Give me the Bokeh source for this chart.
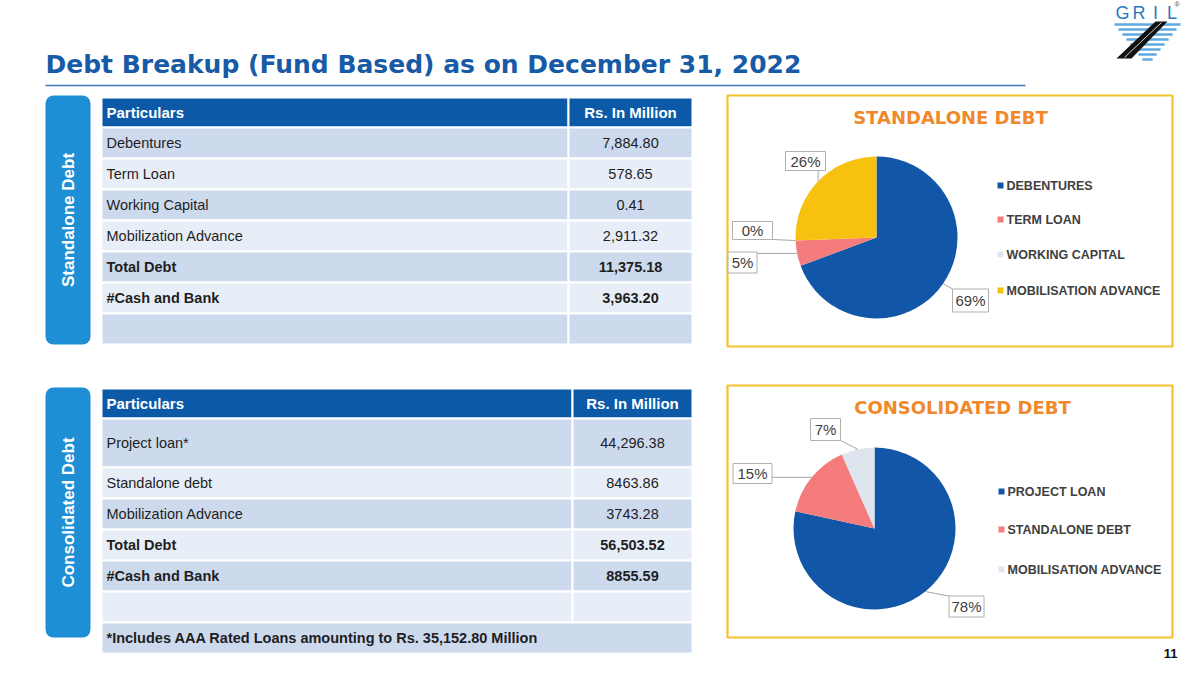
import math
from bokeh.plotting import figure
from bokeh.models import Range1d
from bokeh.embed import file_html
from bokeh.resources import INLINE
from bokeh.core.properties import value

# ---------------- data ----------------
title_text = "Debt Breakup (Fund Based) as on December 31, 2022"
col_headers = ["Particulars", "Rs. In Million"]

sa_items = ["Debentures", "Term Loan", "Working Capital", "Mobilization Advance"]
sa_values = [7884.80, 578.65, 0.41, 2911.32]
sa_total_label = "Total Debt"
sa_total = 11375.18
sa_cash_label = "#Cash and Bank"
sa_cash = 3963.20

cons_items = ["Project loan*", "Standalone debt", "Mobilization Advance"]
cons_values = [44296.38, 8463.86, 3743.28]
cons_value_text = ["44,296.38", "8463.86", "3743.28"]
cons_total_label = "Total Debt"
cons_total = 56503.52
cons_cash_label = "#Cash and Bank"
cons_cash = 8855.59
cons_cash_text = "8855.59"
footnote = "*Includes AAA Rated Loans amounting to Rs. 35,152.80 Million"

sa_side = "Standalone Debt"
cons_side = "Consolidated Debt"
sa_pie_title = "STANDALONE DEBT"
cons_pie_title = "CONSOLIDATED DEBT"
sa_pie_labels = ["DEBENTURES", "TERM LOAN", "WORKING CAPITAL", "MOBILISATION ADVANCE"]
cons_pie_labels = ["PROJECT LOAN", "STANDALONE DEBT", "MOBILISATION ADVANCE"]
logo_letters = ["G", "R", "I", "L"]
page_number = "11"

# ---------------- styles ----------------
FONT = value("Liberation Sans")
WIDE = value("DejaVu Sans")
TITLE_BLUE = "#175aa6"
HEAD_BLUE = "#0c5aa7"
SIDE_BLUE = "#1f8fd5"
BAND_DARK = "#cddaee"
BAND_LIGHT = "#e8eef7"
TXT = "#1e1e1e"
ORANGE = "#f0892b"
GOLD = "#f6c12c"
LEG_TXT = "#404040"
sa_colors = ["#1256a8", "#f47c7c", "#dfe5ef", "#f7c20f"]
cons_colors = ["#1256a8", "#f47c7c", "#dfe5ef"]

p = figure(width=1184, height=663, x_range=Range1d(0, 1184), y_range=Range1d(-663, 0),
           output_backend="svg", toolbar_location=None, min_border=0,
           x_axis_type=None, y_axis_type=None)
p.grid.visible = False
p.outline_line_color = None
p.background_fill_color = "white"
p.border_fill_color = "white"


def Y(v):
    return -v


# ---------------- title ----------------
p.text(x=[45], y=[Y(64)], text=[title_text], text_font=WIDE, text_font_style="bold",
       text_font_size="25px", text_color=TITLE_BLUE, text_baseline="alphabetic")
p.segment(x0=[45], y0=[Y(85)], x1=[1025], y1=[Y(85)], line_color="#3a74b8", line_width=1.5)

# ---------------- logo ----------------
for i, ch in enumerate(logo_letters):
    p.text(x=[1122 + i * 16.5], y=[Y(12)], text=[ch], text_font=FONT, text_font_size="18px",
           text_color="#2a78bd", text_align="center", text_baseline="middle")
p.text(x=[1174], y=[Y(4)], text=["®"], text_font=FONT, text_font_size="7px",
       text_color="#555555", text_align="left", text_baseline="middle")
for k in range(8):
    yy = 24 + k * 5.0
    half = 33 * (1 - k / 8.3)
    p.segment(x0=[1147 - half], y0=[Y(yy)], x1=[1147 + half], y1=[Y(yy)],
              line_color="#5ea9df", line_width=2.4)
p.patch(x=[1155, 1167, 1131, 1116], y=[Y(21), Y(21), Y(58), Y(58)], fill_color="#111111",
        line_color=None)
p.segment(x0=[1161], y0=[Y(22)], x1=[1124], y1=[Y(57)], line_color="white", line_width=0.8)


# ---------------- tables ----------------
def draw_table(left, split, right, header, rows, labels, vals, bolds, side_box, side_text,
               foot=None):
    p.quad(left=[side_box[0]], right=[side_box[1]], top=[Y(side_box[2])], bottom=[Y(side_box[3])],
           fill_color=SIDE_BLUE, line_color=None, border_radius=8)
    p.text(x=[(side_box[0] + side_box[1]) / 2], y=[Y((side_box[2] + side_box[3]) / 2)],
           text=[side_text], angle=math.pi / 2, text_font=FONT, text_font_style="bold",
           text_font_size="17px", text_color="white", text_align="center",
           text_baseline="middle")
    p.quad(left=[left, split], right=[split, right], top=[Y(header[0])] * 2,
           bottom=[Y(header[1])] * 2, fill_color=HEAD_BLUE, line_color="white", line_width=2)
    hy = Y((header[0] + header[1]) / 2)
    p.text(x=[left + 5], y=[hy], text=[col_headers[0]], text_font=FONT, text_font_style="bold",
           text_font_size="15px", text_color="white", text_baseline="middle")
    p.text(x=[(split + right) / 2], y=[hy], text=[col_headers[1]], text_font=FONT,
           text_font_style="bold", text_font_size="15px", text_color="white",
           text_align="center", text_baseline="middle")
    for i, (t, b) in enumerate(rows):
        col = BAND_DARK if i % 2 == 0 else BAND_LIGHT
        p.quad(left=[left, split], right=[split, right], top=[Y(t)] * 2, bottom=[Y(b)] * 2,
               fill_color=col, line_color="white", line_width=2)
        ym = Y((t + b) / 2)
        if i < len(labels):
            style = "bold" if bolds[i] else "normal"
            p.text(x=[left + 5], y=[ym], text=[labels[i]], text_font=FONT, text_font_style=style,
                   text_font_size="14.5px", text_color=TXT, text_baseline="middle")
            p.text(x=[(split + right) / 2], y=[ym], text=[vals[i]], text_font=FONT,
                   text_font_style=style, text_font_size="14.5px", text_color=TXT,
                   text_align="center", text_baseline="middle")
    if foot is not None:
        t, b = foot
        col = BAND_DARK if len(rows) % 2 == 0 else BAND_LIGHT
        p.quad(left=[left], right=[right], top=[Y(t)], bottom=[Y(b)], fill_color=col,
               line_color="white", line_width=2)
        p.text(x=[left + 5], y=[Y((t + b) / 2)], text=[footnote], text_font=FONT,
               text_font_style="bold", text_font_size="14.5px", text_color=TXT,
               text_baseline="middle")


sa_labels = sa_items + [sa_total_label, sa_cash_label]
sa_vals = [f"{v:,.2f}" for v in sa_values + [sa_total, sa_cash]]
sa_bolds = [False] * len(sa_items) + [True, True]
draw_table(101, 568, 692, (97, 127),
           [(127, 158), (158, 189), (189, 220), (220, 251), (251, 282), (282, 313), (313, 344)],
           sa_labels, sa_vals, sa_bolds, (45, 90, 95, 344), sa_side)

cons_labels = cons_items + [cons_total_label, cons_cash_label]
cons_vals = cons_value_text + [f"{cons_total:,.2f}", cons_cash_text]
cons_bolds = [False] * len(cons_items) + [True, True]
draw_table(101, 572, 692, (388, 418),
           [(418, 467), (467, 498), (498, 529), (529, 560), (560, 591), (591, 622)],
           cons_labels, cons_vals, cons_bolds, (45, 90, 387, 637), cons_side, foot=(622, 653))


# ---------------- pies ----------------
def draw_pie(frame, title, title_xy, cx, cy, r, vals, colors, names, leg_x, leg_y, boxes):
    fl, fr, ft, fb = frame
    p.quad(left=[fl], right=[fr], top=[Y(ft)], bottom=[Y(fb)], fill_color="white",
           line_color=GOLD, line_width=2.2)
    p.text(x=[title_xy[0]], y=[Y(title_xy[1])], text=[title], text_font=WIDE,
           text_font_style="bold", text_font_size="18px", text_color=ORANGE,
           text_align="center", text_baseline="middle")
    total = sum(vals)
    cum = 0.0
    starts, ends, mids = [], [], []
    for v in vals:
        f0 = cum / total
        cum += v
        f1 = cum / total
        starts.append(math.pi / 2 - 2 * math.pi * f0)
        ends.append(math.pi / 2 - 2 * math.pi * f1)
        mids.append(math.pi / 2 - math.pi * (f0 + f1))
    p.wedge(x=[cx] * len(vals), y=[Y(cy)] * len(vals), radius=r, start_angle=ends,
            end_angle=starts, direction="anticlock", fill_color=colors, line_color=None)
    for v, a, (bx, by, bw, bh) in zip(vals, mids, boxes):
        ex = cx + r * math.cos(a)
        ey = cy - r * math.sin(a)
        px = min(max(ex, bx - bw / 2), bx + bw / 2)
        py = min(max(ey, by - bh / 2), by + bh / 2)
        p.segment(x0=[ex], y0=[Y(ey)], x1=[px], y1=[Y(py)], line_color="#a6a6a6", line_width=1)
        p.quad(left=[bx - bw / 2], right=[bx + bw / 2], top=[Y(by - bh / 2)],
               bottom=[Y(by + bh / 2)], fill_color="white", line_color="#b0b0b0", line_width=1)
        p.text(x=[bx], y=[Y(by)], text=[f"{round(v / total * 100)}%"], text_font=FONT,
               text_font_size="15px", text_color=LEG_TXT, text_align="center",
               text_baseline="middle")
    for i, (nm, c) in enumerate(zip(names, colors)):
        ly = leg_y[i]
        p.quad(left=[leg_x], right=[leg_x + 6], top=[Y(ly - 3)], bottom=[Y(ly + 3)],
               fill_color=c, line_color=None)
        p.text(x=[leg_x + 9], y=[Y(ly)], text=[nm], text_font=FONT, text_font_style="bold",
               text_font_size="12.5px", text_color=LEG_TXT, text_baseline="middle")


draw_pie((727, 1172, 95, 346), sa_pie_title, (950, 117), 876, 237, 81, sa_values, sa_colors,
         sa_pie_labels, 997, [185, 219, 254, 290],
         [(970, 300, 36, 23), (742, 262, 29, 21), (752, 230, 40, 18), (805, 160.5, 40, 19)])

draw_pie((727, 1172, 385, 637), cons_pie_title, (962, 407), 874, 528, 81, cons_values,
         cons_colors, cons_pie_labels, 998, [491, 529, 569],
         [(966, 606, 35, 21), (752, 473, 39, 20), (825, 429, 30, 22)])

# ---------------- page number ----------------
p.text(x=[1170], y=[Y(653)], text=[page_number], text_font=FONT, text_font_style="bold",
       text_font_size="13px", text_color="#111111", text_align="center", text_baseline="middle")

open("out.html", "w").write(file_html(p, INLINE))
